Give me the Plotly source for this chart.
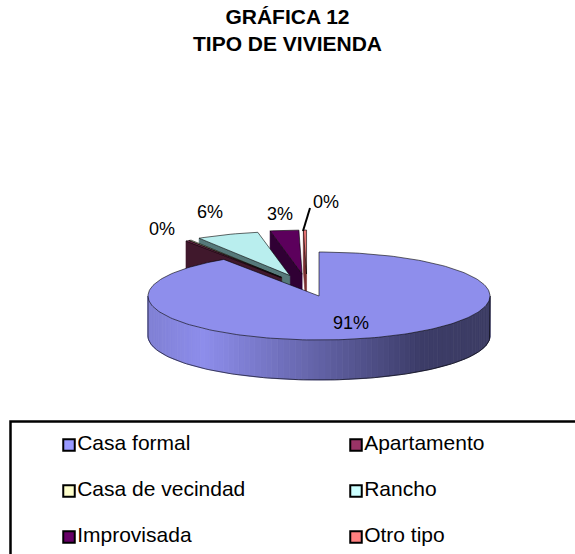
import numpy as np
import plotly.graph_objects as go

TITLE = "GRÁFICA 12<br>TIPO DE VIVIENDA"
categories = ["Casa formal", "Apartamento", "Casa de vecindad", "Rancho", "Improvisada", "Otro tipo"]
values = [90.6, 0.3, 0.2, 5.9, 2.7, 0.3]

legend_colors = ["#9999ff", "#993366", "#ffffcc", "#ccffff", "#660066", "#ff8080"]
top_colors = ["#8e8eec", "#8a2e5c", "#eeeebb", "#b9eeee", "#5c005c", "#e87474"]
wall_colors = ["#8e8eec", "#40182c", "#3a3a28", "#56797a", "#300034", "#7a3030"]

W, H = 575, 554
CX, CY, RX, RY, DEPTH = 319.0, 296.0, 171.0, 44.0, 40.0

fig = go.Figure()


def poly(xs, ys, fill, line="black", lw=0.6, name=None):
    fig.add_trace(go.Scatter(x=list(xs), y=list(ys), mode="lines", fill="toself",
                             fillcolor=fill, line=dict(color=line, width=lw),
                             hoverinfo="skip", showlegend=False, name=name))


def rim(cx, cy, a):
    return cx + RX * np.sin(a), cy - RY * np.cos(a)


# angles of slices (clockwise from 12 o'clock)
edges = np.radians(np.concatenate([[0], np.cumsum(values)]) / sum(values) * 360)

# small slices, far to near
for i in [5, 4, 3, 2, 1]:
    a0, a1 = edges[i], edges[i + 1]
    m = (a0 + a1) / 2
    ax = CX - 12 + 47 * np.sin(m)
    ay = CY - 22 * np.cos(m)
    rx0, ry0 = rim(ax, ay, a0)
    # visible cut wall on the slice's leading side
    poly([rx0, ax, ax, rx0, rx0], [ry0, ay, ay + DEPTH, ry0 + DEPTH, ry0], wall_colors[i],
         line=wall_colors[i], name=categories[i])
    t = np.linspace(a0, a1, 12)
    rx_, ry_ = rim(ax, ay, t)
    poly(np.r_[ax, rx_, ax], np.r_[ay, ry_, ay], top_colors[i], name=categories[i])


# big slice wall: horizontal shading across the front
def shade(u):
    stops_u = [0.0, 0.16, 0.80, 1.0]
    stops_c = [(128, 128, 212), (142, 142, 236), (60, 60, 104), (60, 60, 100)]
    return "rgb(%d,%d,%d)" % tuple(int(np.interp(u, stops_u, [c[k] for c in stops_c])) for k in range(3))


n = 90
ang = np.linspace(np.radians(90), np.radians(270), n + 1)
for j in range(n):
    x0, y0 = rim(CX, CY, ang[j])
    x1, y1 = rim(CX, CY, ang[j + 1])
    u = (0.5 * (x0 + x1) - (CX - RX)) / (2 * RX)
    c = shade(u)
    poly([x0, x1, x1, x0, x0], [y0, y1, y1 + DEPTH, y0 + DEPTH, y0], c, line=c, lw=0.8)

# outline of wall
t = np.linspace(np.radians(90), np.radians(270), 120)
ox, oy = rim(CX, CY, t)
fig.add_trace(go.Scatter(x=np.r_[ox[0], ox, ox[-1]], y=np.r_[oy[0], oy + DEPTH, oy[-1]], mode="lines",
                         line=dict(color="black", width=0.6), hoverinfo="skip", showlegend=False))

# big slice top
t = np.linspace(edges[0], edges[1], 240)
bx, by = rim(CX, CY, t)
poly(np.r_[CX, bx, CX], np.r_[CY, by, CY], top_colors[0], name=categories[0])

# leader line for last label
fig.add_trace(go.Scatter(x=[303, 310], y=[231, 208], mode="lines", line=dict(color="black", width=2),
                         hoverinfo="skip", showlegend=False))

# percent labels
label_x = [351, 162, None, 210, 280, 326]
label_y = [324, 230, None, 213, 215, 203]
pct = ["%d%%" % round(v) for v in values]
lx = [x for x in label_x if x is not None]
ly = [y for y in label_y if y is not None]
lt = [p for p, x in zip(pct, label_x) if x is not None]
fig.add_trace(go.Scatter(x=lx, y=ly, mode="text", text=lt, textposition="middle center",
                         textfont=dict(family="Liberation Sans", size=18, color="black"),
                         hoverinfo="skip", showlegend=False))

# legend
leg_x = [69, 356, 69, 356, 69, 356]
leg_y = [445, 445, 491, 491, 537, 537]
for i, c in enumerate(categories):
    fig.add_trace(go.Scatter(x=[leg_x[i]], y=[leg_y[i]], mode="markers+text", text=[c],
                             textposition="middle right",
                             marker=dict(symbol="square", size=11.5, color=legend_colors[i],
                                         line=dict(color="black", width=2)),
                             textfont=dict(family="Liberation Sans", size=21, color="black"),
                             hoverinfo="skip", showlegend=False, name=c))

fig.update_layout(
    width=W, height=H, margin=dict(l=0, r=0, t=0, b=0),
    paper_bgcolor="white", plot_bgcolor="white", showlegend=False,
    xaxis=dict(range=[0, W], visible=False, fixedrange=True),
    yaxis=dict(range=[H, 0], visible=False, fixedrange=True),
    title=dict(text="<b>" + TITLE.replace("<br>", "</b><br><b>") + "</b>", x=0.5, xanchor="center",
               y=0.957, yanchor="middle",
               font=dict(family="Liberation Sans", size=21, color="black")),
    shapes=[dict(type="rect", xref="x", yref="y", x0=10.5, y0=421.5, x1=600, y1=600,
                 line=dict(color="black", width=2.5), fillcolor="rgba(0,0,0,0)", layer="below")],
)
fig.write_html("out.html", post_script="document.body.style.margin='0';document.body.style.overflow='hidden';",
               config=dict(displayModeBar=False))
